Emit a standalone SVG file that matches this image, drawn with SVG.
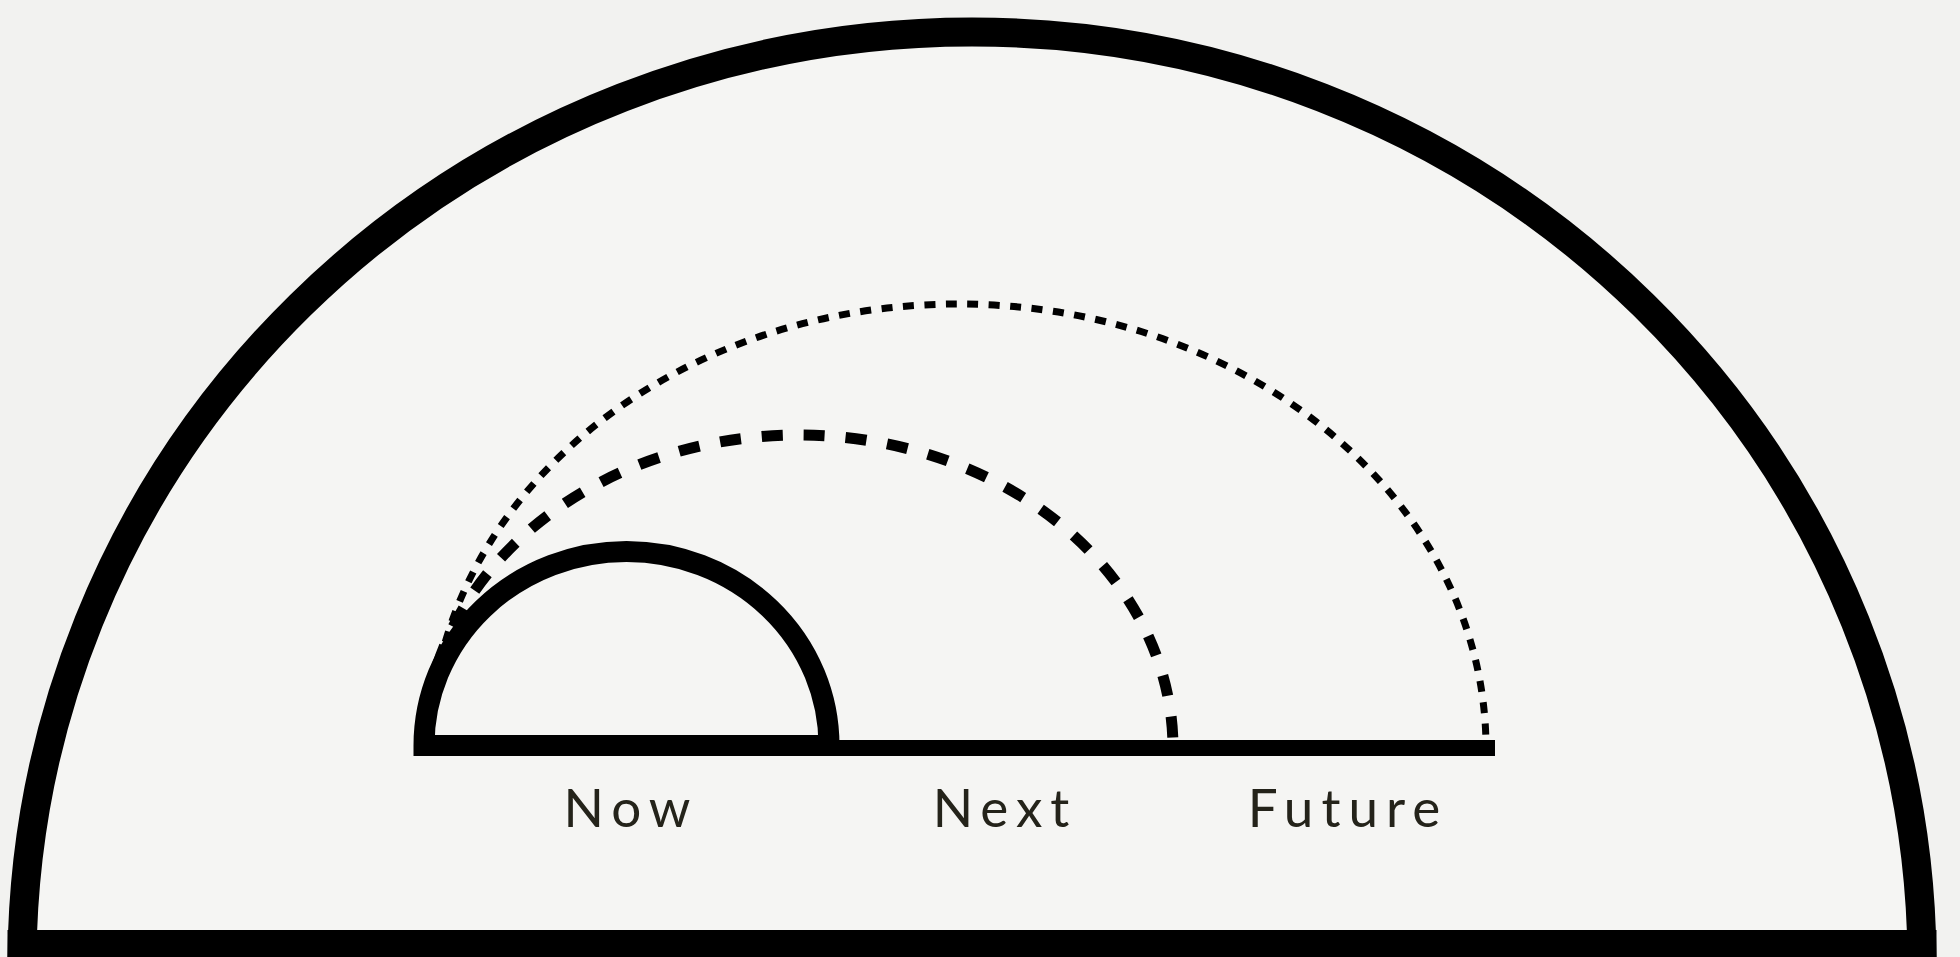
<svg xmlns="http://www.w3.org/2000/svg" width="1960" height="957" viewBox="0 0 1960 957">
<style>
.label{font-family:Lato,"Liberation Sans",sans-serif;font-size:53px;fill:#24231a;letter-spacing:8px;text-anchor:middle}
.solid{fill:none;stroke:#000}
</style>
<rect x="0" y="0" width="1960" height="957" fill="#f2f2f0"/>
<g id="outer">
<path d="M22,965 A950,933 0 0 1 1922,965 Z" fill="#f5f5f3"/>
<path class="solid" d="M22,965 A950,933 0 0 1 1922,965" stroke-width="29"/>
<rect x="7.5" y="930" width="1929" height="30" fill="#000"/>
</g>
<g id="connectors">
<path id="future-arc" d="M430,748 A528,444 0 0 1 1486,748" fill="none" stroke="#000" stroke-width="7" stroke-dasharray="11 10.5"/>
<path id="next-arc" d="M424,748 A374.5,313 0 0 1 1173,748" fill="none" stroke="#000" stroke-width="11" stroke-dasharray="21 21"/>
<line id="baseline" x1="829" y1="748" x2="1495" y2="748" stroke="#000" stroke-width="16"/>
</g>
<g id="now">
<path class="solid" d="M424,745.5 A202.5,194 0 0 1 829,745.5 Z" stroke-width="21"/>
</g>
<g id="labels">
<text class="label" x="631" y="827">Now</text>
<text class="label" x="1005" y="827">Next</text>
<text class="label" x="1348" y="827">Future</text>
</g>
</svg>
